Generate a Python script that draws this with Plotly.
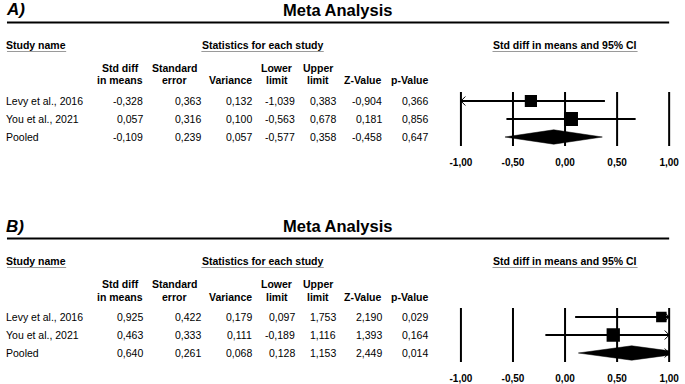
import plotly.graph_objects as go
import math

W, H = 685, 384
FONT = "Liberation Sans, Arial, sans-serif"

# ---------------- data ----------------
studies = ["Levy et al., 2016", "You et al., 2021", "Pooled"]

a_smd = [-0.328, 0.057, -0.109]
a_se = [0.363, 0.316, 0.239]
a_var = [0.132, 0.100, 0.057]
a_lower = [-1.039, -0.563, -0.577]
a_upper = [0.383, 0.678, 0.358]
a_z = [-0.904, 0.181, -0.458]
a_p = [0.366, 0.856, 0.647]

b_smd = [0.925, 0.463, 0.640]
b_se = [0.422, 0.333, 0.261]
b_var = [0.179, 0.111, 0.068]
b_lower = [0.097, -0.189, 0.128]
b_upper = [1.753, 1.116, 1.153]
b_z = [2.190, 1.393, 2.449]
b_p = [0.029, 0.164, 0.014]

panel_labels = ["A)", "B)"]
title_text = "Meta Analysis"
col_head_top = ["Std diff", "Standard", "", "Lower", "Upper", "", ""]
col_head_bot = ["in means", "error", "Variance", "limit", "limit", "Z-Value", "p-Value"]
tick_vals = [-1.0, -0.5, 0.0, 0.5, 1.0]
x_min, x_max = -1.0, 1.0

panels = [
    dict(smd=a_smd, se=a_se, var=a_var, lo=a_lower, hi=a_upper, z=a_z, p=a_p),
    dict(smd=b_smd, se=b_se, var=b_var, lo=b_lower, hi=b_upper, z=b_z, p=b_p),
]

# ---------------- layout constants (pixels) ----------------
offsets = [0, 216]
col_center = [117, 172, 229, 275.5, 317.5, 363, 410]
col_right = [139.5, 198, 250, 293, 335, 382, 428]
row_px = [101, 119, 137]
px_left, px_right = 462, 673  # pixel of x=-1 and x=+1
pad = 0.06


def fmt(v):
    return f"{v:.3f}".replace(".", ",")


def X(px):
    return px / W


def Y(py):
    return 1 - py / H


fig = go.Figure()
annotations = []
shapes = []

scale = (px_right - px_left) / (x_max - x_min)
dom_x = [X(px_left - pad * scale), X(px_right + pad * scale)]


def ann(text, px, py, size=10.5, bold=False, xanchor="left", italic=False):
    t = text
    if bold:
        t = f"<b>{t}</b>"
    if italic:
        t = f"<i>{t}</i>"
    annotations.append(dict(
        text=t, x=X(px), y=Y(py), xref="paper", yref="paper",
        xanchor=xanchor, yanchor="middle", showarrow=False,
        font=dict(family=FONT, size=size, color="black"),
        borderpad=0, borderwidth=0,
    ))


for k, (pan, off) in enumerate(zip(panels, offsets)):
    xa = "x" if k == 0 else "x2"
    ya = "y" if k == 0 else "y2"
    # titles
    ann(panel_labels[k], 1, 10 + off, size=17, bold=True, italic=True)
    ann(title_text, 337, 10 + off, size=16.5, bold=True, xanchor="center")
    shapes.append(dict(type="line", xref="paper", yref="paper",
                       x0=X(2), x1=X(673), y0=Y(22.5 + off), y1=Y(22.5 + off),
                       line=dict(color="black", width=2.2)))
    # section headers
    ann("Study name", 1, 45 + off, bold=True)
    ann("Statistics for each study", 261, 45 + off, bold=True, xanchor="center")
    ann("Std diff in means and 95% CI", 567.5, 45 + off, bold=True, xanchor="center")
    for (x0, x1) in [(2, 62), (199, 323), (494, 641)]:
        shapes.append(dict(type="line", xref="paper", yref="paper",
                           x0=X(x0), x1=X(x1), y0=Y(51.5 + off), y1=Y(51.5 + off),
                           line=dict(color="#9a9a9a", width=1)))
    # column headers
    for c in range(7):
        if col_head_top[c]:
            ann(col_head_top[c], col_center[c], 68 + off, bold=True, xanchor="center")
        ann(col_head_bot[c], col_center[c], 80.5 + off, bold=True, xanchor="center")
    # rows
    cols = [pan["smd"], pan["se"], pan["var"], pan["lo"], pan["hi"], pan["z"], pan["p"]]
    for r in range(3):
        ann(studies[r], 1, row_px[r] + off)
        for c in range(7):
            ann(fmt(cols[c][r]), col_right[c] + 0.5, row_px[r] + off, xanchor="right")

    # forest plot axes
    top_px = row_px[0] - 9 + off
    bot_px = row_px[2] + 9 + off
    xkey = "xaxis" if k == 0 else "xaxis2"
    ykey = "yaxis" if k == 0 else "yaxis2"
    fig.update_layout(**{
        xkey: dict(domain=dom_x, range=[x_min - pad, x_max + pad], anchor=ya,
                   showgrid=False, zeroline=False, showline=False,
                   tickvals=tick_vals,
                   ticktext=[f"<b>{fmt(v)[:-1]}</b>" for v in tick_vals],
                   ticks="outside", ticklen=7, tickcolor="rgba(0,0,0,0)",
                   tickfont=dict(family=FONT, size=10, color="black"),
                   fixedrange=True),
        ykey: dict(domain=[Y(bot_px), Y(top_px)], range=[2.5, -0.5], anchor=xa,
                   visible=False, fixedrange=True),
    })
    # vertical reference lines
    for v in tick_vals:
        shapes.append(dict(type="line", xref=xa, yref=ya, x0=v, x1=v, y0=-0.5, y1=2.5,
                           line=dict(color="black", width=2), layer="below"))

    # arrow geometry in data units
    adx = 4.5 / scale
    ady = 4.5 / 18
    # study CIs and squares
    for r in range(2):
        lo_c = max(pan["lo"][r], x_min)
        hi_c = min(pan["hi"][r], x_max)
        fig.add_trace(go.Scatter(x=[lo_c, hi_c], y=[r, r], mode="lines", xaxis=xa, yaxis=ya,
                                 line=dict(color="black", width=2), hoverinfo="skip",
                                 showlegend=False))
        if pan["lo"][r] < x_min:
            fig.add_trace(go.Scatter(x=[x_min + adx, x_min, x_min + adx], y=[r - ady, r, r + ady],
                                     mode="lines", xaxis=xa, yaxis=ya,
                                     line=dict(color="black", width=1), hoverinfo="skip",
                                     showlegend=False))
        if pan["hi"][r] > x_max:
            fig.add_trace(go.Scatter(x=[x_max - adx, x_max, x_max - adx], y=[r - ady, r, r + ady],
                                     mode="lines", xaxis=xa, yaxis=ya,
                                     line=dict(color="black", width=1), hoverinfo="skip",
                                     showlegend=False))
    sizes = [4.43 * math.sqrt(1 / pan["var"][r]) for r in range(2)]
    fig.add_trace(go.Scatter(x=pan["smd"][:2], y=[0, 1], mode="markers", xaxis=xa, yaxis=ya,
                             marker=dict(symbol="square", size=sizes, color="black",
                                         opacity=1, line=dict(width=0)),
                             hoverinfo="skip", showlegend=False))
    # pooled diamond (clipped to axis limits)
    est, lo, hi = pan["smd"][2], pan["lo"][2], pan["hi"][2]
    h = 0.4
    r = 2
    xs, ys = [], []
    if lo < x_min:
        f = (x_min - lo) / (est - lo)
        xs += [x_min, x_min]
        ys += [r + h * f, r - h * f]
    else:
        xs += [lo]
        ys += [r]
    xs += [est]
    ys += [r - h]
    if hi > x_max:
        f = (hi - x_max) / (hi - est)
        xs += [x_max, x_max]
        ys += [r - h * f, r + h * f]
    else:
        xs += [hi]
        ys += [r]
    xs += [est, xs[0]]
    ys += [r + h, ys[0]]
    fig.add_trace(go.Scatter(x=xs, y=ys, mode="lines", fill="toself", fillcolor="black",
                             xaxis=xa, yaxis=ya, line=dict(color="black", width=0.5),
                             hoverinfo="skip", showlegend=False))
    if hi > x_max:
        fig.add_trace(go.Scatter(x=[x_max - adx, x_max, x_max - adx], y=[r - ady, r, r + ady],
                                 mode="lines", xaxis=xa, yaxis=ya,
                                 line=dict(color="black", width=1), hoverinfo="skip",
                                 showlegend=False))
    if lo < x_min:
        fig.add_trace(go.Scatter(x=[x_min + adx, x_min, x_min + adx], y=[r - ady, r, r + ady],
                                 mode="lines", xaxis=xa, yaxis=ya,
                                 line=dict(color="black", width=1), hoverinfo="skip",
                                 showlegend=False))

fig.update_layout(
    width=W, height=H, margin=dict(l=0, r=0, t=0, b=0),
    paper_bgcolor="white", plot_bgcolor="white",
    annotations=annotations, shapes=shapes, showlegend=False,
    font=dict(family=FONT, color="black"),
)

fig.write_html("out.html", config={"displayModeBar": False},
               post_script="document.body.style.margin='0';document.body.style.overflow='hidden';")
